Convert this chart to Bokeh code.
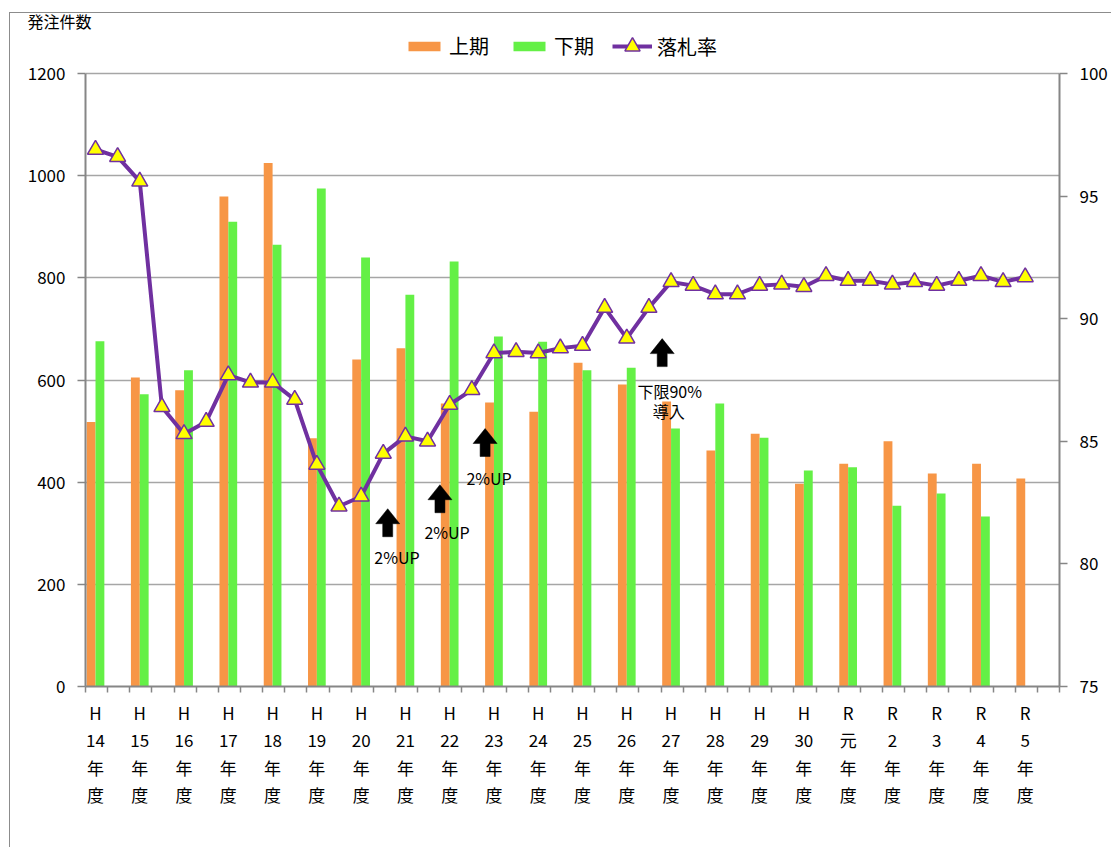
from bokeh.plotting import figure
from bokeh.models import (Range1d, LinearAxis, FixedTicker, Legend, LegendItem,
                          Label, ColumnDataSource, InlineStyleSheet)
from bokeh.embed import file_html
from bokeh.resources import INLINE

# ---------------- data ----------------
years = ["H\n14", "H\n15", "H\n16", "H\n17", "H\n18", "H\n19", "H\n20", "H\n21",
         "H\n22", "H\n23", "H\n24", "H\n25", "H\n26", "H\n27", "H\n28", "H\n29",
         "H\n30", "R\n元", "R\n2", "R\n3", "R\n4", "R\n5"]
first_half = [518, 605, 580, 959, 1025, 486, 640, 662, 554, 556, 538, 634, 591,
              558, 462, 495, 397, 436, 480, 417, 436, 407]
second_half = [676, 572, 619, 910, 865, 975, 840, 767, 832, 685, 675, 619, 624,
               505, 554, 487, 423, 429, 354, 378, 333, None]
# 落札率: half-year values (上期, 下期 per year)
rate = [96.9, 96.6, 95.6, 86.4, 85.3, 85.8, 87.7, 87.4, 87.4, 86.7, 84.05,
        82.35, 82.75, 84.5, 85.2, 85.0, 86.5, 87.1, 88.6, 88.65, 88.6, 88.8,
        88.9, 90.45, 89.2, 90.45, 91.5, 91.35, 91.0, 91.0, 91.35, 91.4, 91.3,
        91.75, 91.55, 91.55, 91.4, 91.5, 91.35, 91.55, 91.75, 91.5, 91.7]

count_ticks = [0, 200, 400, 600, 800, 1000, 1200]
rate_ticks = [75, 80, 85, 90, 95, 100]

legend_labels = ["上期", "下期", "落札率"]
axis_title = "発注件数"

note_text = ["2%UP", "2%UP", "2%UP", "下限90%", "導入"]
note_x = [6.81, 7.94, 8.89, 12.97, 12.95]
note_y = [254, 303, 409, 579, 540]
arrow_x = [6.60, 7.78, 8.80, 12.80]
arrow_y = [348, 395, 505, 681]

# ---------------- layout constants (pixels) ----------------
FONT = "Noto Sans CJK JP"
FRAME_TOP, AXIS_TOP, FRAME_BOTTOM = 32, 73, 686
n = len(years)
x_lo, x_hi = -0.226, n - 0.226
stretch = (FRAME_BOTTOM - FRAME_TOP) / (FRAME_BOTTOM - AXIS_TOP)
c_lo, c_hi = count_ticks[0], count_ticks[-1]
r_lo, r_hi = rate_ticks[0], rate_ticks[-1]

p = figure(width=1111, height=847, output_backend="svg", toolbar_location=None,
           x_range=Range1d(x_lo, x_hi),
           y_range=Range1d(c_lo, c_lo + (c_hi - c_lo) * stretch),
           min_border_left=85, min_border_right=52, min_border_top=FRAME_TOP,
           min_border_bottom=847 - FRAME_BOTTOM)
p.extra_y_ranges = {"rate": Range1d(r_lo, r_lo + (r_hi - r_lo) * stretch)}
p.outline_line_color = None
p.background_fill_color = "white"
p.border_fill_color = "white"
p.stylesheets = [InlineStyleSheet(css=(
    ":host { position: relative; } "
    ":host::after { content: ''; position: absolute; left: 9px; top: 12px; "
    "right: -30px; bottom: -30px; border-left: 1.5px solid #8c8c8c; "
    "border-top: 1.5px solid #8c8c8c; pointer-events: none; }"))]

AX = "#868686"

# bars
idx1 = list(range(n))
src1 = ColumnDataSource(dict(x=[i - 0.1 for i in idx1], top=first_half))
idx2 = [i for i in range(n) if second_half[i] is not None]
src2 = ColumnDataSource(dict(x=[i + 0.1 for i in idx2], top=[second_half[i] for i in idx2]))
b1 = p.vbar(x="x", top="top", width=0.2, source=src1, fill_color="#F79646", line_color=None)
b2 = p.vbar(x="x", top="top", width=0.2, source=src2, fill_color="#64F046", line_color=None)

# rate line
src3 = ColumnDataSource(dict(x=[k * 0.5 for k in range(len(rate))], y=rate))
ln = p.line("x", "y", source=src3, y_range_name="rate", line_color="#7030A0", line_width=4)
sc = p.scatter("x", "y", source=src3, y_range_name="rate", marker="triangle", size=16,
               fill_color="#FFFF00", line_color="#7030A0", line_width=1.5)

# axes
p.xaxis.ticker = FixedTicker(ticks=list(range(n)),
                             minor_ticks=[x_lo + 0.5 * k for k in range(2 * n + 1)])
p.xaxis.major_label_overrides = {i: years[i] + "\n年\n度" for i in range(n)}
p.xaxis.major_tick_line_color = None
p.xaxis.major_tick_out = 6
p.xaxis.minor_tick_out = 6
p.xaxis.minor_tick_in = 0
p.xaxis.minor_tick_line_color = AX
p.xaxis.minor_tick_line_width = 1.5
p.xaxis.major_label_text_font = FONT
p.xaxis.major_label_text_font_size = "17px"
p.xaxis.major_label_text_line_height = 1.1
p.xaxis.major_label_standoff = 7
p.xaxis.major_label_text_color = "black"

p.yaxis.ticker = FixedTicker(ticks=count_ticks)
p.yaxis.bounds = (c_lo, c_hi)
p.yaxis.minor_tick_line_color = None
p.yaxis.major_tick_out = 8
p.yaxis.major_tick_in = 0
p.yaxis.major_label_standoff = 12
p.yaxis.major_label_text_font = FONT
p.yaxis.major_label_text_font_size = "17px"
p.yaxis.major_label_text_color = "black"

ry = LinearAxis(y_range_name="rate", ticker=FixedTicker(ticks=rate_ticks),
                bounds=(r_lo, r_hi))
ry.minor_tick_line_color = None
ry.major_tick_out = 8
ry.major_tick_in = 0
ry.major_label_standoff = 12
ry.major_label_text_font = FONT
ry.major_label_text_font_size = "17px"
ry.major_label_text_color = "black"
p.add_layout(ry, "right")

for ax in [p.xaxis[0], p.yaxis[0], ry]:
    ax.axis_line_color = AX
    ax.axis_line_width = 2
    ax.major_tick_line_width = 1.5
for ax in [p.yaxis[0], ry]:
    ax.major_tick_line_color = AX

p.xgrid.visible = False
p.ygrid.grid_line_color = "#A6A6A6"
p.ygrid.grid_line_width = 1.5

# arrows (shape in pixels, converted to data units)
px_x = (x_hi - x_lo) / 974.0
px_y = (c_hi - c_lo) / (FRAME_BOTTOM - AXIS_TOP)
xs, ys = [], []
for ax_, ay_ in zip(arrow_x, arrow_y):
    hw, hh, sw, sh = 12, 15, 5, 13
    pts = [(0, 0), (hw, -hh), (sw, -hh), (sw, -hh - sh), (-sw, -hh - sh), (-sw, -hh), (-hw, -hh)]
    xs.append([ax_ + dx * px_x for dx, dy in pts])
    ys.append([ay_ + dy * px_y for dx, dy in pts])
p.patches(xs, ys, fill_color="black", line_color="black", line_width=0.5)

for t, x, y in zip(note_text, note_x, note_y):
    p.add_layout(Label(x=x, y=y, text=t, text_align="center", text_baseline="middle",
                       text_font=FONT, text_font_size="16px", text_color="black"))

# title of left axis (count)
p.title.text = axis_title
p.title.align = "left"
p.title.vertical_align = "bottom"
p.title.offset = -58
p.title.text_font = FONT
p.title.text_font_size = "16px"
p.title.text_font_style = "normal"
p.title.text_color = "black"
p.title.standoff = 0

common = dict(orientation="horizontal", glyph_width=40, label_standoff=5, spacing=20,
              padding=0, margin=0, label_height=20, label_text_font=FONT,
              label_text_font_size="20px", label_text_color="black",
              border_line_color=None, background_fill_alpha=0)
legend_bars = Legend(items=[LegendItem(label=legend_labels[0], renderers=[b1]),
                            LegendItem(label=legend_labels[1], renderers=[b2])],
                     location=(319, 626), glyph_height=12, **common)
legend_line = Legend(items=[LegendItem(label=legend_labels[2], renderers=[ln, sc])],
                     location=(527, 621), glyph_height=38, **common)
p.add_layout(legend_bars, "center")
p.add_layout(legend_line, "center")

open("out.html", "w").write(file_html(p, INLINE))
